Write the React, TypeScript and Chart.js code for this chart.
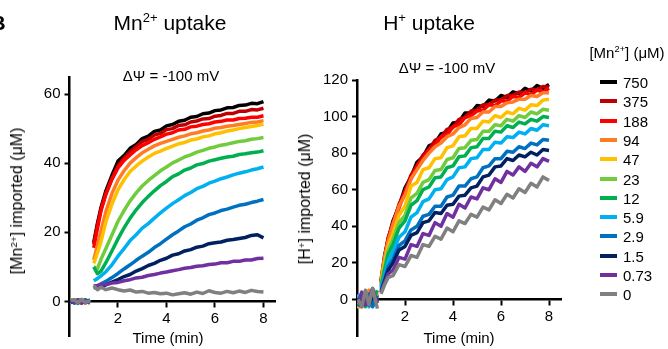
import React, { useEffect, useRef } from "react";
import { Chart, registerables } from "chart.js";
Chart.register(...registerables);

const FONT = "Arial, 'Liberation Sans', sans-serif";

// ---------- data ----------
const concentrations = ["750", "375", "188", "94", "47", "23", "12", "5.9", "2.9", "1.5", "0.73", "0"];
const seriesColors = ["#000000", "#c00000", "#ff0000", "#ff7c24", "#ffc000", "#70cc3c", "#00b050", "#00b0f0", "#0070c0", "#002060", "#7030a0", "#808080"];

const baseTimes = [0.05, 0.2, 0.35, 0.5, 0.65, 0.85];
const curveTimes = [1.0, 1.15, 1.3, 1.5, 1.75, 2.0, 2.25, 2.5, 2.75, 3.0, 3.25, 3.5, 3.75, 4.0, 4.25, 4.5, 4.75, 5.0, 5.25, 5.5, 5.75, 6.0, 6.25, 6.5, 6.75, 7.0, 7.25, 7.5, 7.75, 8.0];

const mnXTicks = [2, 4, 6, 8];
const mnYTicks = [0, 20, 40, 60];
const hXTicks = [2, 4, 6, 8];
const hYTicks = [0, 20, 40, 60, 80, 100, 120];

// Mn2+ uptake ([Mn2+] imported, µM): 6 baseline samples then 30 post-addition samples
const mnUptake750 = [0.2, -0.4, 0.5, -0.3, 0.4, -0.2, 17, 22.5, 27.2, 32, 36.5, 40.6, 42.2, 44.3, 45.4, 47.1, 47.8, 49.2, 49.6, 50.8, 51.2, 52.1, 52.4, 53.3, 53.5, 54.3, 54.5, 55.2, 55.4, 56.0, 56.1, 56.7, 56.8, 57.3, 57.2, 57.8];
const mnUptake375 = [-0.3, 0.4, -0.5, 0.3, -0.4, 0.2, 16.5, 22, 26.6, 31.2, 35.6, 39.2, 41.5, 43.2, 44.8, 46.2, 46.9, 48.1, 48.6, 49.7, 50.0, 50.9, 51.1, 51.9, 52.2, 52.8, 52.9, 53.6, 53.8, 54.4, 54.4, 55.0, 55.0, 55.5, 55.4, 55.9];
const mnUptake188 = [0.4, -0.2, 0.3, -0.5, 0.2, -0.3, 15.5, 21, 26.3, 31, 35.3, 38.6, 40.8, 42.4, 43.9, 45.1, 45.9, 46.9, 47.6, 48.4, 48.8, 49.6, 49.8, 50.5, 50.7, 51.2, 51.4, 51.9, 52.1, 52.5, 52.5, 52.9, 53.0, 53.3, 53.3, 53.7];
const mnUptake94 = [-0.2, 0.5, -0.3, 0.4, -0.5, 0.3, 12, 16.2, 20.4, 26, 31.2, 35.1, 37.8, 40.0, 41.6, 43.0, 44.0, 45.0, 45.7, 46.3, 46.9, 47.5, 47.9, 48.5, 48.8, 49.3, 49.6, 50.1, 50.3, 50.7, 50.9, 51.2, 51.5, 51.8, 51.9, 52.3];
const mnUptake47 = [0.3, -0.5, 0.2, -0.2, 0.5, -0.4, 11, 14, 17.3, 23, 28.2, 32.3, 35.2, 37.6, 39.2, 40.6, 41.8, 42.8, 43.5, 44.3, 44.9, 45.6, 46.0, 46.7, 47.0, 47.6, 47.9, 48.5, 48.8, 49.3, 49.6, 50.0, 50.3, 50.6, 50.9, 51.3];
const mnUptake23 = [-0.5, 0.3, -0.2, 0.5, -0.3, 0.4, 10, 9.4, 12.2, 15.3, 19.2, 23.2, 26.3, 29.1, 31.4, 33.4, 35.0, 36.4, 37.8, 38.9, 40.1, 40.9, 41.8, 42.4, 43.2, 43.7, 44.3, 44.7, 45.2, 45.5, 45.9, 46.3, 46.5, 46.9, 47.1, 47.4];
const mnUptake12 = [0.5, -0.3, 0.4, -0.4, 0.3, -0.5, 10, 8, 8.8, 11.2, 14.6, 18.1, 21.3, 24.1, 26.5, 28.6, 30.4, 32.0, 33.5, 34.7, 36.1, 36.9, 38.0, 38.6, 39.5, 39.9, 40.6, 41.0, 41.4, 41.8, 42.0, 42.5, 42.7, 43.0, 43.2, 43.6];
const mnUptake5p9 = [-0.4, 0.2, -0.6, 0.3, -0.2, 0.5, 6, 6.6, 7.4, 8.6, 10.6, 13.1, 15.3, 17.6, 19.3, 21.2, 22.5, 24.1, 25.6, 27.0, 28.3, 29.4, 30.6, 31.5, 32.6, 33.3, 34.2, 34.8, 35.5, 36.0, 36.6, 37.1, 37.5, 38.0, 38.4, 38.9];
const mnUptake2p9 = [0.2, -0.5, 0.4, -0.3, 0.5, -0.2, 4.5, 4.4, 5.1, 5.8, 6.9, 8.1, 9.4, 10.6, 11.9, 13.1, 14.2, 15.6, 16.7, 18.0, 19.3, 20.4, 21.6, 22.4, 23.5, 24.2, 25.1, 25.6, 26.3, 26.7, 27.3, 27.8, 28.1, 28.6, 29.0, 29.5];
const mnUptake1p5 = [-0.3, 0.4, -0.4, 0.2, -0.3, 0.3, 4, 3.9, 4.3, 4.8, 5.6, 6.3, 7.2, 7.8, 8.8, 9.5, 10.4, 11.0, 11.9, 12.5, 13.4, 13.8, 14.6, 15.0, 15.7, 16.0, 16.7, 17.0, 17.2, 17.7, 17.9, 18.2, 18.5, 19.1, 19.3, 18.4];
const mnUptake0p73 = [0.4, -0.3, 0.5, -0.5, 0.2, -0.4, 4.5, 4.6, 4.8, 4.9, 5.3, 5.5, 6.0, 6.3, 6.8, 7.0, 7.5, 7.8, 8.2, 8.5, 8.9, 9.2, 9.6, 9.8, 10.2, 10.3, 10.7, 10.8, 11.2, 11.2, 11.6, 11.6, 12.0, 12.0, 12.4, 12.5];
const mnUptake0 = [0.3, 0.5, -0.4, 0.6, -0.3, 0.2, 4.6, 3.4, 4.1, 3.4, 3.9, 3.4, 3.0, 3.3, 2.7, 2.9, 2.4, 2.6, 2.2, 2.4, 1.9, 2.2, 2.5, 2.1, 2.7, 2.3, 3.1, 2.6, 2.4, 2.9, 2.5, 3.0, 2.6, 3.2, 2.9, 2.7];

// H+ uptake ([H+] imported, µM)
const hUptake750 = [2, -3, 4, -1, 5, 1, 10, 24, 33, 43, 51, 61, 67, 75, 78, 84, 85.5, 90.5, 91.5, 96.5, 97, 102, 102, 106, 105.5, 109, 108.5, 111.5, 110.5, 113.5, 112.5, 115.5, 114, 117, 115.5, 117.5];
const hUptake375 = [-2, 3, -3, 4, -2, 3, 9, 23, 34, 41, 52, 59, 68, 73, 79, 82, 87, 88.5, 93, 94, 98.5, 99.5, 103, 103.5, 106.5, 106.5, 109, 109, 111.5, 111.5, 113.5, 113, 115, 114.5, 116.5, 116];
const hUptake188 = [1, -4, 3, -2, 4, -1, 10, 22, 33, 42, 50, 59, 66, 73, 77, 82, 84, 89, 90, 94.5, 95.5, 99.5, 100.5, 103, 103.5, 106.5, 106, 108.5, 108.5, 111, 110.5, 113, 112, 114.5, 113.5, 115.5];
const hUptake94 = [-3, 2, -2, 5, -3, 2, 11, 23, 32, 41, 51, 57, 66, 71, 76, 80, 83.5, 85.5, 89, 90.5, 94, 95.5, 99, 99.5, 102.5, 102.5, 105.5, 105.5, 107.5, 108, 109.5, 109.5, 111.5, 111, 113, 113];
const hUptake47 = [-5, 3, -1, 3, -2, 4, 9, 20, 29, 36, 46, 51, 62, 64, 71, 72, 77, 77.5, 83, 84, 89, 89.5, 93.5, 93.5, 97.5, 97, 100.5, 99.5, 102.5, 101.5, 104.5, 103.5, 106.5, 106, 109, 109.5];
const hUptake23 = [2, -2, 4, -3, 3, -2, 8, 18, 27, 33, 42, 46, 55.5, 58, 64, 65.5, 70.5, 71, 76.5, 77.5, 82.5, 83, 87, 87.5, 92, 92, 95.5, 95, 98.5, 97.5, 100.5, 99.5, 102.5, 101.5, 104, 103.5];
const hUptake12 = [-1, 3, -4, 2, -1, 5, 7, 16, 25, 30, 39, 43, 51.5, 54, 60, 61.5, 66.5, 67, 72, 73, 78, 78.5, 83, 83.5, 88, 88, 92, 91.5, 95, 94, 97, 96, 98.5, 97.5, 100, 99.5];
const hUptake5p9 = [3, -3, 2, -4, 4, 0, 6, 13, 21, 26, 34, 37, 45, 47.5, 53.5, 55, 60, 60.5, 65.5, 67, 72, 72.5, 77, 77.5, 82, 82, 86, 85.5, 89, 88.5, 91.5, 90.5, 93.5, 92.5, 95.5, 95];
const hUptake2p9 = [-4, 1, -2, 3, -4, 2, 5, 11, 18, 22, 29.5, 32, 38, 40, 45.5, 46.5, 51, 51, 56, 57, 62, 62, 66, 67, 72, 73, 77, 77, 81, 80.5, 83.5, 82.5, 85.5, 84.5, 87.5, 87];
const hUptake1p5 = [1, -2, 3, -3, 2, -1, 4, 10, 16, 20, 27, 29, 35, 36.5, 42, 43, 47.5, 47, 51.5, 52, 56.5, 57, 61, 62, 67, 68, 72.5, 73, 77, 76, 79, 78, 80.5, 79, 82, 81.5];
const hUptake0p73 = [-2, 4, -3, 1, 6, -2, 4, 9, 14, 16, 23, 22, 30, 29, 36, 35, 42, 40, 47, 45, 52, 50, 56, 55, 61, 60, 66, 64, 70, 68, 72.5, 70, 74.5, 72.5, 77, 75.5];
const hUptake0 = [0, -4, 5, -3, 6, -5, 3, 8, 12, 13, 19, 18, 24, 23, 30, 29, 34.5, 33, 39, 37, 43, 41.5, 46.5, 45, 50.5, 49, 54.5, 52.5, 57.5, 55.5, 60.5, 58.5, 63.5, 61.5, 67, 65];

const mnSeries = [mnUptake750, mnUptake375, mnUptake188, mnUptake94, mnUptake47, mnUptake23, mnUptake12, mnUptake5p9, mnUptake2p9, mnUptake1p5, mnUptake0p73, mnUptake0];
const hSeries = [hUptake750, hUptake375, hUptake188, hUptake94, hUptake47, hUptake23, hUptake12, hUptake5p9, hUptake2p9, hUptake1p5, hUptake0p73, hUptake0];

// ---------- helpers ----------
const sampleTimes = [...baseTimes, ...curveTimes];
function toPoints(values: number[]) {
  const pts: { x: number; y: number | null }[] = [];
  values.forEach((v, i) => {
    if (i === baseTimes.length) {
      pts.push({ x: (baseTimes[baseTimes.length - 1] + curveTimes[0]) / 2, y: null });
    }
    pts.push({ x: sampleTimes[i], y: v });
  });
  return pts;
}

type PanelProps = {
  series: number[][];
  xTicks: number[];
  yTicks: number[];
  xMax: number;
  yMin: number;
  yMax: number;
  padding: { left: number; right: number; top: number; bottom: number };
};

function Panel({ series, xTicks, yTicks, xMax, yMin, yMax, padding }: PanelProps) {
  const ref = useRef<HTMLCanvasElement>(null);
  useEffect(() => {
    if (!ref.current) return;
    const n = series.length;
    const datasets = series.map((vals, i) => ({
      data: toPoints(vals),
      borderColor: seriesColors[i],
      backgroundColor: seriesColors[i],
      borderWidth: 3.5,
      borderJoinStyle: "round",
      pointRadius: 0,
      fill: false,
      spanGaps: false,
      tension: 0,
      order: n - 1 - i,
    }));
    const tickFont = { family: FONT, size: 15 };
    const chart = new Chart(ref.current, {
      type: "line",
      data: { datasets } as any,
      options: {
        animation: false,
        responsive: false,
        devicePixelRatio: 1,
        events: [],
        layout: { padding },
        plugins: { legend: { display: false }, tooltip: { enabled: false }, title: { display: false } },
        scales: {
          x: {
            type: "linear",
            min: 0,
            max: xMax,
            position: { y: 0 } as any,
            afterBuildTicks: (s: any) => {
              s.ticks = xTicks.map((v) => ({ value: v }));
            },
            afterFit: (s: any) => {
              s.height = 22;
            },
            grid: { drawOnChartArea: false, drawTicks: true, tickLength: 5, tickWidth: 2, tickColor: "#000" },
            border: { display: true, color: "#000", width: 2.5 },
            ticks: { color: "#000", font: tickFont, padding: 3, maxRotation: 0, autoSkip: false, callback: (v: any) => String(v) },
          },
          y: {
            type: "linear",
            min: yMin,
            max: yMax,
            position: "left",
            afterBuildTicks: (s: any) => {
              s.ticks = yTicks.map((v) => ({ value: v }));
            },
            afterFit: (s: any) => {
              s.width = 40;
            },
            grid: { drawOnChartArea: false, drawTicks: true, tickLength: 5, tickWidth: 2, tickColor: "#000" },
            border: { display: true, color: "#000", width: 2.5 },
            ticks: { color: "#000", font: tickFont, padding: 4, autoSkip: false, callback: (v: any) => String(v) },
          },
        },
      } as any,
    });
    return () => chart.destroy();
  }, []);
  return (
    <canvas
      ref={ref}
      width={668}
      height={349}
      style={{ position: "absolute", left: 0, top: 0, width: 668, height: 349, pointerEvents: "none" }}
    />
  );
}

const Sup = ({ children }: { children: React.ReactNode }) => (
  <sup style={{ fontSize: "0.62em", verticalAlign: "0.55em", lineHeight: 0 }}>{children}</sup>
);

function Txt({ x, y, size, rotate, children, bold }: { x: number; y: number; size: number; rotate?: boolean; bold?: boolean; children: React.ReactNode }) {
  return (
    <div
      style={{
        position: "absolute",
        left: x,
        top: y,
        transform: `translate(-50%, -50%)${rotate ? " rotate(-90deg)" : ""}`,
        fontSize: size,
        lineHeight: 1,
        whiteSpace: "nowrap",
        fontFamily: FONT,
        fontWeight: bold ? "bold" : "normal",
        color: "#000",
      }}
    >
      {children}
    </div>
  );
}

export default function App() {
  Chart.defaults.font.family = FONT;
  return (
    <div style={{ position: "absolute", left: 0, top: 0, width: 668, height: 349, background: "#fff", overflow: "hidden" }}>
      <Panel
        series={mnSeries}
        xTicks={mnXTicks}
        yTicks={mnYTicks}
        xMax={8.5}
        yMin={-10}
        yMax={65}
        padding={{ left: 29.5, right: 392.4, top: 76.75, bottom: 6.5 }}
      />
      <Panel
        series={hSeries}
        xTicks={hXTicks}
        yTicks={hYTicks}
        xMax={8.5}
        yMin={-20}
        yMax={120}
        padding={{ left: 317, right: 107, top: 80, bottom: 0.6 }}
      />
      <Txt x={-2} y={22} size={21} bold>B</Txt>
      <Txt x={170} y={22} size={21}>
        Mn<Sup>2+</Sup> uptake
      </Txt>
      <Txt x={429} y={22} size={21}>
        H<Sup>+</Sup> uptake
      </Txt>
      <Txt x={171} y={75} size={15}>ΔΨ = -100 mV</Txt>
      <Txt x={447} y={67} size={15}>ΔΨ = -100 mV</Txt>
      <Txt x={17} y={201} size={16} rotate>
        [Mn<Sup>2+</Sup>] imported (μM)
      </Txt>
      <Txt x={305} y={199} size={16} rotate>
        [H<Sup>+</Sup>] imported (μM)
      </Txt>
      <Txt x={168} y={337} size={15}>Time (min)</Txt>
      <Txt x={459} y={337} size={15}>Time (min)</Txt>
      <Txt x={627} y={52} size={15}>
        [Mn<Sup>2+</Sup>] (μM)
      </Txt>
      {concentrations.map((c, i) => (
        <React.Fragment key={c}>
          <div
            style={{
              position: "absolute",
              left: 600,
              top: 82 + i * 19.3 - 2,
              width: 17,
              height: 4,
              background: seriesColors[i],
            }}
          />
          <div
            style={{
              position: "absolute",
              left: 623,
              top: 82 + i * 19.3,
              transform: "translateY(-50%)",
              fontSize: 15,
              lineHeight: 1,
              fontFamily: FONT,
              whiteSpace: "nowrap",
              color: "#000",
            }}
          >
            {c}
          </div>
        </React.Fragment>
      ))}
    </div>
  );
}
